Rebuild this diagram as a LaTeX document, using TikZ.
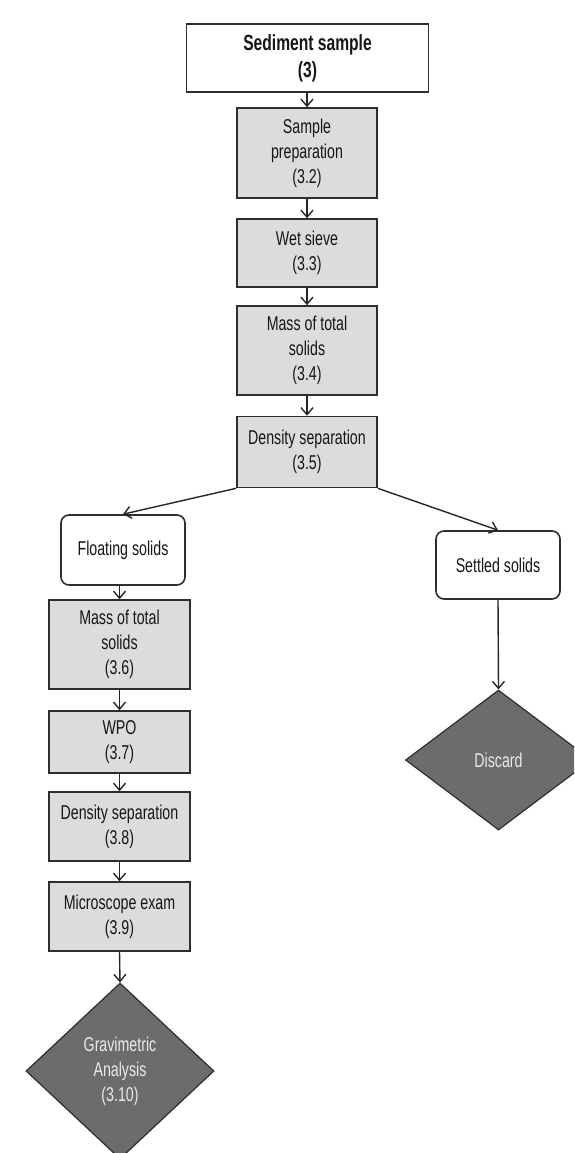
\documentclass[tikz,border=0pt]{standalone}
\usepackage{fontspec}
\setmainfont{Liberation Sans}[FakeStretch=0.71]
\usetikzlibrary{shapes.geometric,arrows.meta}
\definecolor{boxfill}{HTML}{DCDCDC}
\definecolor{edge}{HTML}{2E2E2E}
\definecolor{dia}{HTML}{6C6C6C}
\definecolor{diatext}{HTML}{EAEAEA}
\definecolor{txt}{HTML}{161616}
\tikzset{
  base/.style={draw=edge, line width=1.6pt, align=center, inner sep=0pt, text=txt,
    font=\fontsize{20}{25}\selectfont},
  procbox/.style={base, rectangle, fill=boxfill, minimum width=141pt},
  titlebox/.style={base, rectangle, fill=white, font=\fontsize{22}{27}\selectfont\bfseries},
  roundbox/.style={base, rectangle, rounded corners=8pt, fill=white, minimum width=124pt},
  endbox/.style={base, diamond, fill=dia, text=diatext, line width=1.2pt},
  conn/.style={draw=black!85, line width=1.4pt, -{Straight Barb[length=7pt,width=12pt,line width=1.4pt]}}
}
\begin{document}
\begin{tikzpicture}[x=1pt,y=-1pt]
\clip (0,0) rectangle (574,1153);
\fill[white] (0,0) rectangle (574,1153);

\node[titlebox, minimum width=242pt, minimum height=68pt] (top) at (307.5,58) {Sediment sample\\(3)};
\node[procbox, minimum width=140pt, minimum height=90pt] (sp) at (307,153) {Sample\\preparation\\(3.2)};
\node[procbox, minimum width=140pt, minimum height=68pt] (ws) at (307,253) {Wet sieve\\(3.3)};
\node[procbox, minimum width=140pt, minimum height=89pt] (m1) at (307,350.5) {Mass of total\\solids\\(3.4)};
\node[procbox, minimum width=140pt, minimum height=71pt] (ds1) at (307,452) {Density separation\\(3.5)};

\node[roundbox, minimum height=70pt] (float) at (123,550) {Floating solids};
\node[roundbox, minimum height=68pt] (settled) at (498,565) {Settled solids};

\node[procbox, minimum height=89pt] (m2) at (119.5,644.5) {Mass of total\\solids\\(3.6)};
\node[procbox, minimum height=62pt] (wpo) at (119.5,742) {WPO\\(3.7)};
\node[procbox, minimum height=69pt] (ds2) at (119.5,826.5) {Density separation\\(3.8)};
\node[procbox, minimum height=69pt] (micro) at (119.5,916.5) {Microscope exam\\(3.9)};

\node[endbox, minimum width=186pt, minimum height=140pt] (discard) at (498.5,760) {Discard};
\node[endbox, minimum width=188pt, minimum height=176pt] (grav) at (120,1071) {Gravimetric\\Analysis\\(3.10)};

\draw[conn] (top.south -| sp.north) -- (sp.north);
\draw[conn] (sp) -- (ws);
\draw[conn] (ws) -- (m1);
\draw[conn] (m1) -- (ds1);
\draw[conn] (ds1.south west) -- (float.north);
\draw[conn] (ds1.south east) -- (settled.north);
\draw[conn] (float.south -| m2.north) -- (m2.north);
\draw[conn] (m2) -- (wpo);
\draw[conn] (wpo) -- (ds2);
\draw[conn] (ds2) -- (micro);
\draw[conn] (micro.south) -- (grav.north);
\draw[conn] (settled.south) -- (discard.north);
\end{tikzpicture}
\end{document}
